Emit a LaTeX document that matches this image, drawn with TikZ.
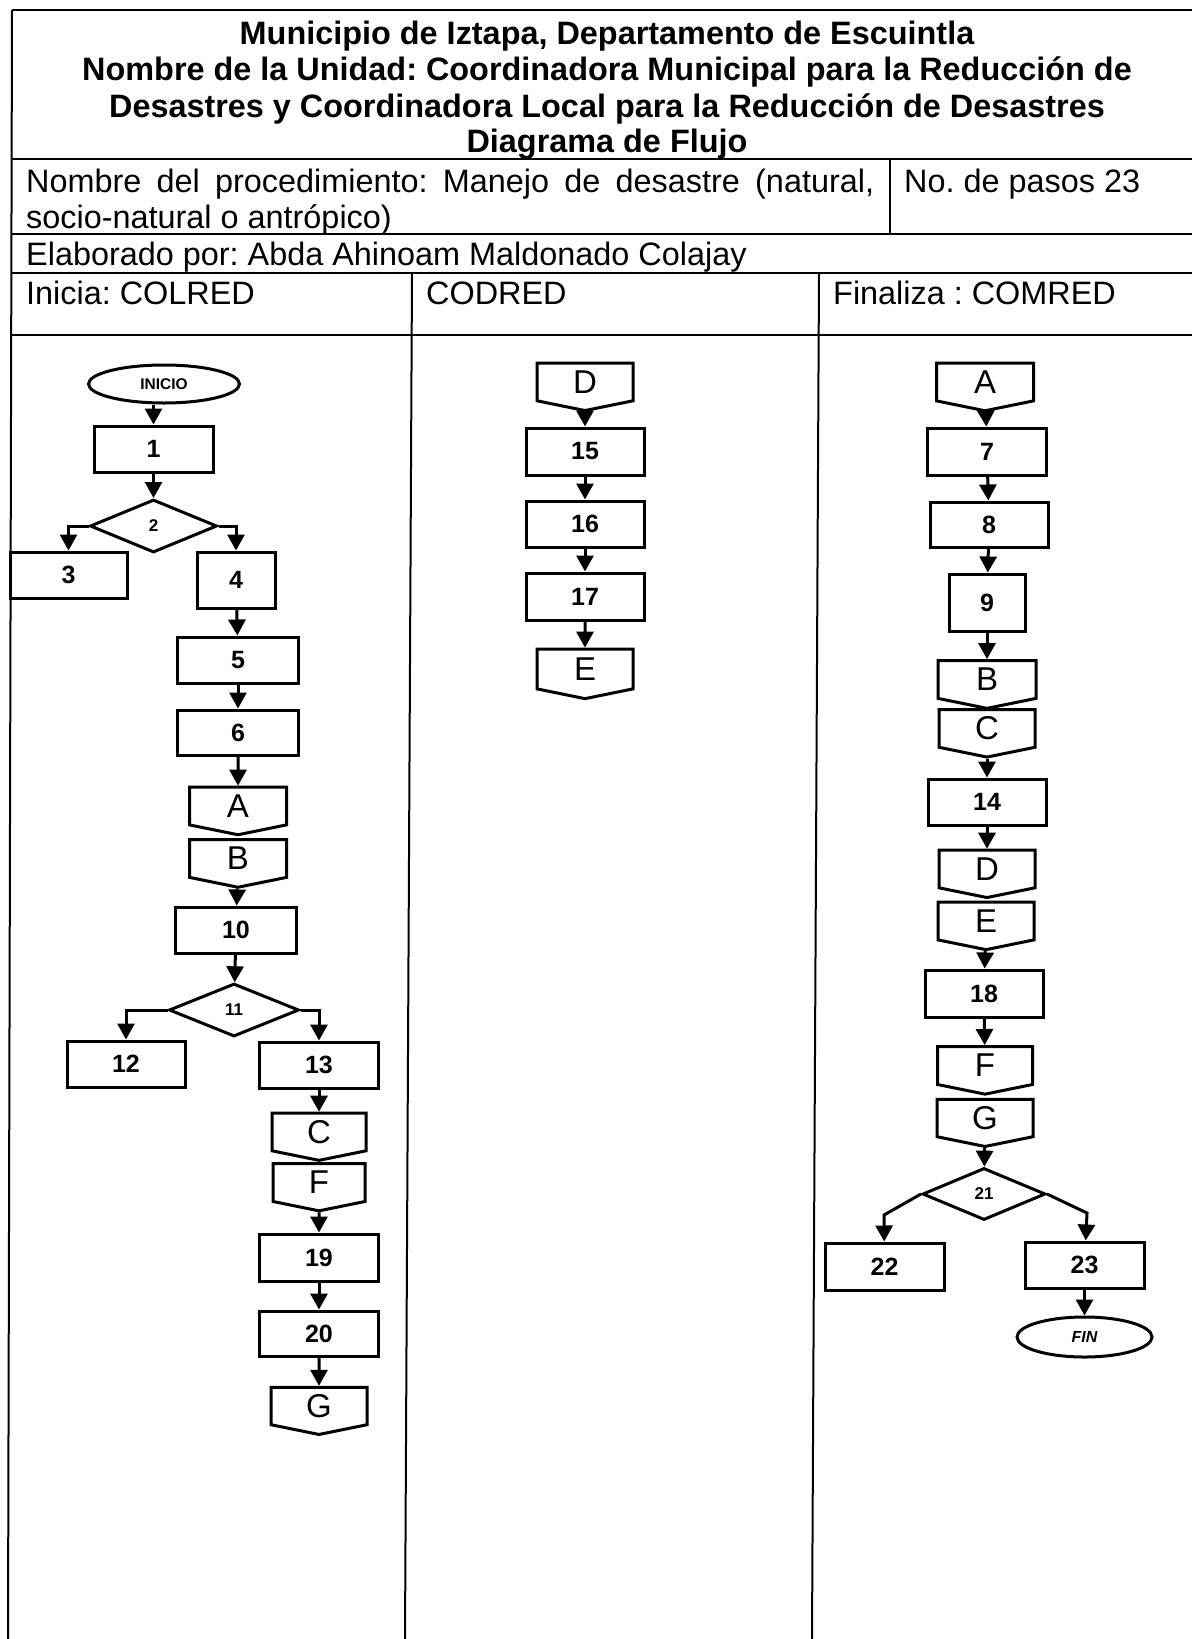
\documentclass[tikz,border=0pt]{standalone}
\usepackage{fontspec}
\setmainfont{Liberation Sans}
\usetikzlibrary{arrows.meta,shapes.geometric,shapes.symbols}
\frenchspacing

\begin{document}
\begin{tikzpicture}[
    x=1pt, y=-1pt,
    process/.style={rectangle, draw=black, line width=3pt,
        minimum width=119pt, minimum height=46pt, inner sep=0pt,
        font=\fontsize{25}{29}\selectfont\bfseries},
    decision/.style={diamond, draw=black, line width=3pt,
        minimum width=127pt, minimum height=53pt, inner sep=0pt,
        font=\fontsize{17}{20}\selectfont\bfseries},
    connector/.style={signal, signal to=south, signal pointer angle=157,
        draw=black, line width=3pt, minimum width=97pt, minimum height=40pt,
        inner sep=0pt, font=\fontsize{33}{37}\selectfont},
    terminal/.style={ellipse, draw=black, line width=3pt,
        minimum width=151pt, minimum height=38pt, inner sep=0pt,
        font=\fontsize{15.5}{18}\selectfont\bfseries},
    flow/.style={line width=3pt, -{Triangle[length=16pt,width=17pt]}},
    tableline/.style={line width=2pt},
    header/.style={anchor=base west, inner sep=0pt,
        font=\fontsize{32.4}{36}\selectfont},
    title/.style={anchor=base, inner sep=0pt,
        font=\fontsize{32.4}{36}\selectfont\bfseries}
]
    \useasboundingbox (0,0) rectangle (1192,1639);

    % table
    \draw[tableline] (12,10) -- (1192,10);
    \draw[tableline] (12,10) -- (8,1639);
    \draw[tableline] (12,159) -- (1192,159);
    \draw[tableline] (12,234) -- (1192,234);
    \draw[tableline] (12,273) -- (1192,273);
    \draw[tableline] (12,335) -- (1192,335);
    \draw[tableline] (890,159) -- (890,234);
    \draw[tableline] (412,273) -- (405,1639);
    \draw[tableline] (819,273) -- (812,1639);

    \node[title] (t1) at (607,44) {Municipio de Iztapa, Departamento de Escuintla};
    \node[title] (t2) at (607,80.5) {Nombre de la Unidad: Coordinadora Municipal para la Reducción de};
    \node[title] (t3) at (607,117) {Desastres y Coordinadora Local para la Reducción de Desastres};
    \node[title] (t4) at (607,152) {Diagrama de Flujo};
    \node[header] (proc1) at (26,192) {\makebox[848pt][s]{Nombre del procedimiento: Manejo de desastre (natural,}};
    \node[header] (proc2) at (26,228) {socio-natural o antrópico)};
    \node[header] (pasos) at (904,192) {No. de pasos 23};
    \node[header] (autor) at (26,265) {Elaborado por: Abda Ahinoam Maldonado Colajay};
    \node[header] (colred) at (26,304) {Inicia: COLRED};
    \node[header] (codred) at (426,304) {CODRED};
    \node[header] (comred) at (833,304) {Finaliza : COMRED};

    % COLRED
    \node[terminal] (inicio) at (164,384) {INICIO};
    \node[process] (b1) at (153.5,449) {1};
    \node[decision] (d2) at (153.5,526) {2};
    \node[process, minimum width=117pt] (b3) at (68.5,575) {3};
    \node[process, minimum width=78pt, minimum height=56pt] (b4) at (236,580) {4};
    \node[process, minimum width=121pt] (b5) at (238,660) {5};
    \node[process, minimum width=121pt, minimum height=45pt] (b6) at (238,732.5) {6};
    \node[connector] (a1) at (238,806) {A};
    \node[connector] (b1c) at (238,858.5) {B};
    \node[process, minimum width=121pt] (b10) at (236,930) {10};
    \node[decision, minimum width=130pt] (d11) at (234,1010) {11};
    \node[process, minimum width=118pt] (b12) at (126,1064) {12};
    \node[process] (b13) at (319,1065) {13};
    \node[connector, minimum width=94pt] (c1) at (319,1132) {C};
    \node[connector, minimum width=92pt] (f1) at (319,1182.5) {F};
    \node[process, minimum height=47pt] (b19) at (319,1257.5) {19};
    \node[process, minimum height=45pt] (b20) at (319,1333.5) {20};
    \node[connector, minimum width=96pt] (g1) at (319,1406) {G};

    % CODRED
    \node[connector, minimum width=96pt] (d2c) at (585,382) {D};
    \node[process, minimum width=118pt, minimum height=47pt] (b15) at (585,451.5) {15};
    \node[process, minimum width=118pt] (b16) at (585,524) {16};
    \node[process, minimum width=118pt, minimum height=47pt] (b17) at (585,596.5) {17};
    \node[connector, minimum width=96pt, minimum height=42pt] (e2) at (585,669) {E};

    % COMRED
    \node[connector] (a3) at (985,382) {A};
    \node[process, minimum height=47pt] (b7) at (987,451.5) {7};
    \node[process, minimum width=118pt, minimum height=45pt] (b8) at (989,524.5) {8};
    \node[process, minimum width=76pt, minimum height=57pt] (b9) at (987,602.5) {9};
    \node[connector, minimum width=98pt] (b3c) at (987,679.5) {B};
    \node[connector, minimum width=96pt] (c3) at (987,728.5) {C};
    \node[process, minimum width=118pt] (b14) at (987,802) {14};
    \node[connector, minimum width=96pt] (d3) at (987,869) {D};
    \node[connector, minimum width=96pt] (e3) at (986,921) {E};
    \node[process, minimum width=118pt, minimum height=47pt] (b18) at (984,993.5) {18};
    \node[connector, minimum width=95pt] (f3) at (985,1065.5) {F};
    \node[connector, minimum width=96pt] (g3) at (985,1118) {G};
    \node[decision, minimum width=123pt, minimum height=52pt] (d21) at (984,1194) {21};
    \node[process, minimum height=47pt] (b22) at (884.5,1266.5) {22};
    \node[process] (b23) at (1084.5,1265) {23};
    \node[terminal, minimum width=135pt, minimum height=40pt,
        font=\fontsize{16}{19}\selectfont\bfseries\itshape] (fin) at (1084.5,1337) {FIN};

    \draw[flow] (inicio.south -| b1) -- (b1);
    \draw[flow] (b1) -- (d2);
    \draw[flow] (d2.west) -| (b3);
    \draw[flow] (d2.east) -| (b4);
    \draw[flow] (b4) -- (b5);
    \draw[flow] (b5) -- (b6);
    \draw[flow] (b6) -- (a1);
    \draw[flow] (b1c) -- (b10);
    \draw[flow] (b10) -- (d11);
    \draw[flow] (d11.west) -| (b12);
    \draw[flow] (d11.east) -| (b13);
    \draw[flow] (b13) -- (c1);
    \draw[flow] (f1) -- (b19);
    \draw[flow] (b19) -- (b20);
    \draw[flow] (b20) -- (g1);

    \draw[flow] (d2c) -- (b15);
    \draw[flow] (b15) -- (b16);
    \draw[flow] (b16) -- (b17);
    \draw[flow] (b17) -- (e2);

    \draw[flow] (a3) -- (b7);
    \draw[flow] (b7) -- (b8);
    \draw[flow] (b8) -- (b9);
    \draw[flow] (b9) -- (b3c);
    \draw[flow] (c3) -- (b14);
    \draw[flow] (b14) -- (d3);
    \draw[flow] (e3) -- (b18);
    \draw[flow] (b18) -- (f3);
    \draw[flow] (g3) -- (d21);
    \draw[flow] (d21.west) -- ++(-37,21) -- (b22);
    \draw[flow] (d21.east) -- ++(40,19) -- (b23);
    \draw[flow] (b23) -- (fin);
\end{tikzpicture}
\end{document}
